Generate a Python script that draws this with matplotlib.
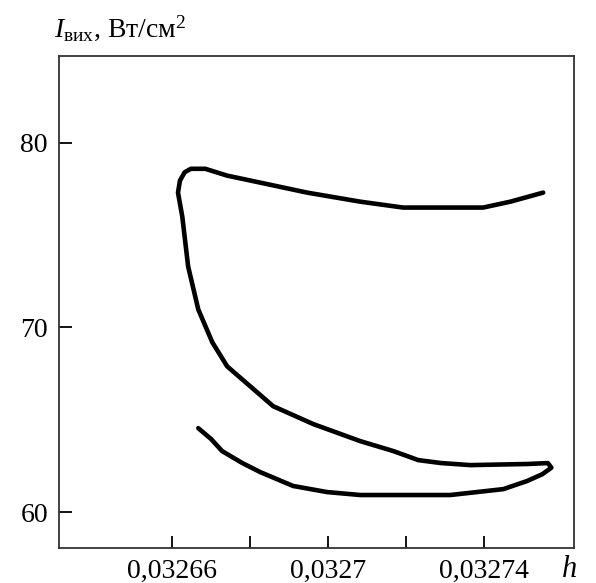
import matplotlib
matplotlib.use('Agg')
import matplotlib.pyplot as plt

# curve traced along its path (h, I_out)
h = [0.0326667, 0.0326700, 0.0326728, 0.0326780, 0.0326826, 0.0326910,
     0.0326997, 0.0327082, 0.0327313, 0.0327449, 0.0327510, 0.0327549,
     0.0327572, 0.0327563, 0.0327510, 0.0327364, 0.0327290, 0.0327231,
     0.0327167, 0.0327082, 0.0326962, 0.0326859, 0.0326800, 0.0326741,
     0.0326703, 0.0326667, 0.0326641, 0.0326626, 0.0326615, 0.0326620,
     0.0326632, 0.0326648, 0.0326685, 0.0326741, 0.0326826, 0.0326946,
     0.0327082, 0.0327192, 0.0327397, 0.0327467, 0.0327551]
I_out = [64.54, 63.95, 63.30, 62.65, 62.16, 61.41,
         61.08, 60.92, 60.92, 61.24, 61.68, 62.05,
         62.40, 62.65, 62.60, 62.54, 62.65, 62.81,
         63.30, 63.84, 64.76, 65.73, 66.81, 67.89,
         69.19, 70.97, 73.30, 76.00, 77.30, 77.95,
         78.40, 78.59, 78.59, 78.22, 77.84, 77.30,
         76.81, 76.49, 76.49, 76.81, 77.30]

xticks = [0.03266, 0.03268, 0.0327, 0.03272, 0.03274]
xlabels = ['0,03266', '', '0,0327', '', '0,03274']
yticks = [60, 70, 80]
ylabels = ['60', '70', '80']

plt.rcParams['font.family'] = 'Liberation Serif'
plt.rcParams['mathtext.fontset'] = 'custom'
plt.rcParams['mathtext.rm'] = 'Liberation Serif'
plt.rcParams['mathtext.it'] = 'Liberation Serif:italic'

fig = plt.figure(figsize=(5.96, 5.83), dpi=100)
ax = fig.add_axes([59/596, 1-548/583, (574-59)/596, (548-56)/583])

ax.plot(h, I_out, color='black', lw=3.3, solid_joinstyle='round', solid_capstyle='round')

ax.set_xlim(0.032631, 0.032763)
ax.set_ylim(58.05, 84.7)
ax.set_xticks(xticks)
ax.set_xticklabels(xlabels)
ax.set_yticks(yticks)
ax.set_yticklabels(ylabels)
ax.tick_params(direction='in', length=9, width=1.3, labelsize=20, pad=8, colors='black')
for s in ax.spines.values():
    s.set_linewidth(1.3)
    s.set_color('#333333')

fig.text(54/596, 1-37/583, r'$I_{\mathrm{вих}}$, Вт/см$^2$', fontsize=20, va='baseline')
fig.text(562/596, 1-577/583, 'h', fontsize=22, style='italic', va='baseline')

fig.savefig('out.png', dpi=100)
